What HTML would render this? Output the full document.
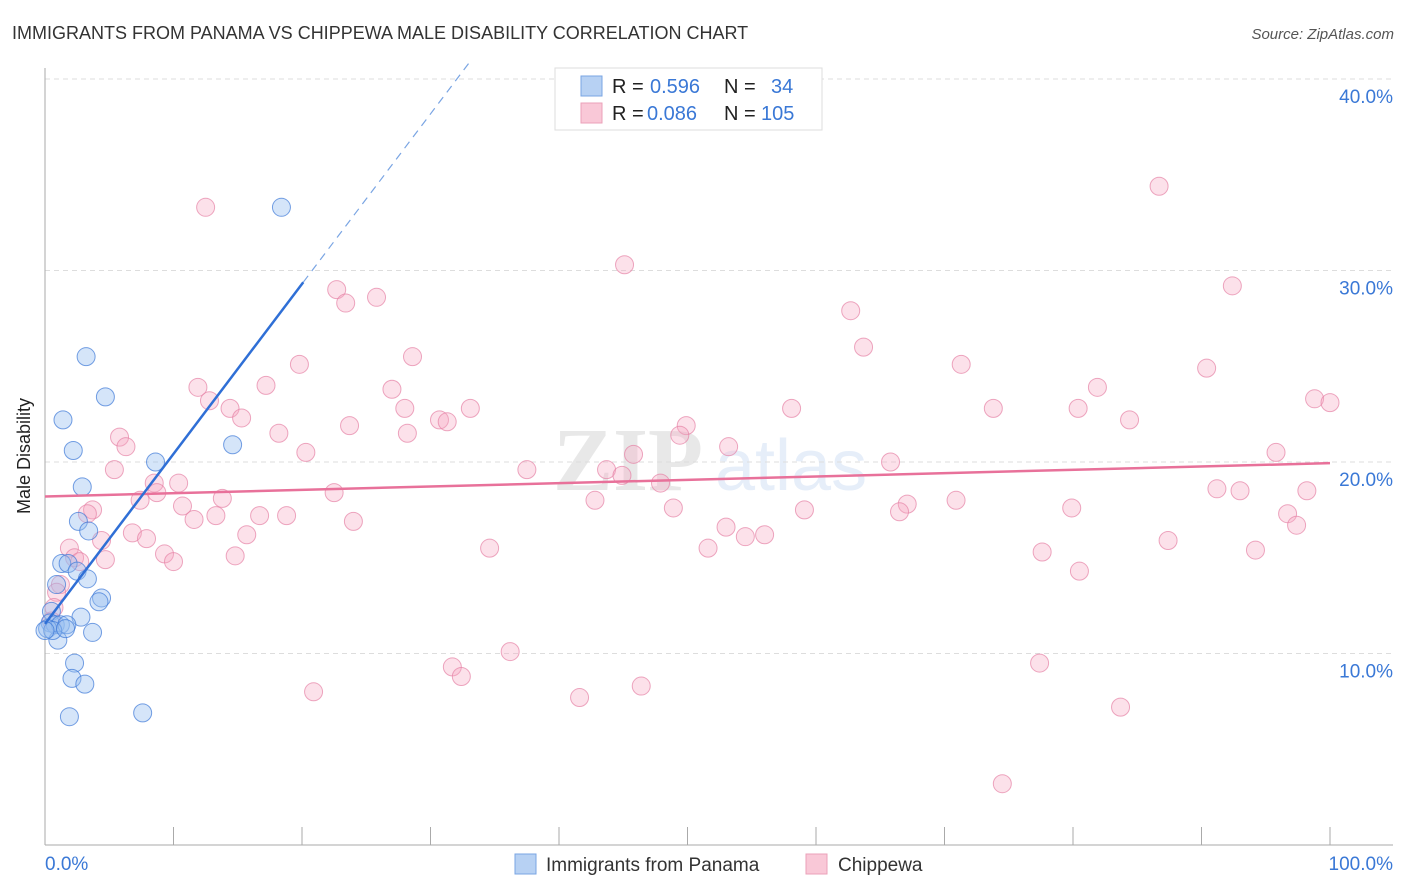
<!DOCTYPE html>
<html><head><meta charset="utf-8"><style>
body{margin:0;background:#fff;font-family:"Liberation Sans",sans-serif;}
svg{display:block}
</style></head><body>
<svg id="chart" width="1406" height="892">
<text x="12" y="39" font-size="18" fill="#333">IMMIGRANTS FROM PANAMA VS CHIPPEWA MALE DISABILITY CORRELATION CHART</text>
<text x="1394" y="39" font-size="15" fill="#555" font-style="italic" text-anchor="end">Source: ZipAtlas.com</text>
<g opacity="0.22">
<text x="553" y="490" font-size="90" font-family="Liberation Serif,serif" font-weight="bold" fill="#999">ZIP</text>
<text x="715" y="490" font-size="72" fill="#8fb3e6">atlas</text>
</g>
<g id="grid"></g>
<g id="axes"></g>
<g id="pts"></g>
<g id="lines"></g>
<text x="30" y="456" font-size="18" fill="#222" text-anchor="middle" transform="rotate(-90 30 456)">Male Disability</text>
<g>
<rect x="555" y="68" width="267" height="62" fill="#fff" stroke="#ddd"/>
<rect x="581" y="76" width="21" height="20" fill="#b7d1f3" stroke="#7aa5e3"/>
<rect x="581" y="103" width="21" height="20" fill="#f9c8d7" stroke="#eba1b8"/>
<text y="93" font-size="20" fill="#222"><tspan x="612">R =</tspan><tspan x="650" fill="#3a78d6">0.596</tspan><tspan x="724">N =</tspan><tspan x="771" fill="#3a78d6">34</tspan></text>
<text y="120" font-size="20" fill="#222"><tspan x="612">R =</tspan><tspan x="647" fill="#3a78d6">0.086</tspan><tspan x="724">N =</tspan><tspan x="761" fill="#3a78d6">105</tspan></text>
</g>
<g>
<rect x="515" y="854" width="21" height="20" fill="#b7d1f3" stroke="#7aa5e3"/>
<text x="546" y="871" font-size="19" fill="#333">Immigrants from Panama</text>
<rect x="806" y="854" width="21" height="20" fill="#f9c8d7" stroke="#eba1b8"/>
<text x="838" y="871" font-size="19" fill="#333">Chippewa</text>
</g>
</svg>
<script>
const yTicks=[10,20,30,40];
const yTickLabels=["10.0%","20.0%","30.0%","40.0%"];
const xTicks=[10,20,30,40,50,60,70,80,90,100];
const xTickLabels=["0.0%","100.0%"];
const blueX=[18.4,3.2,4.7,1.4,14.6,2.2,8.6,2.9,2.6,3.4,1.3,1.8,2.5,3.3,0.9,4.4,4.2,0.5,2.8,0.4,0.8,1.2,1.7,0.2,3.7,1.0,2.3,2.1,3.1,1.9,7.6,0.6,0.0,1.6];
const blueY=[33.3,25.5,23.4,22.2,20.9,20.6,20.0,18.7,16.9,16.4,14.7,14.7,14.3,13.9,13.6,12.9,12.7,12.2,11.9,11.6,11.5,11.5,11.5,11.3,11.1,10.7,9.5,8.7,8.4,6.7,6.9,11.2,11.2,11.3];
const pinkX=[12.5,45.1,86.7,92.4,22.7,23.4,25.8,62.7,63.7,28.6,19.8,71.3,90.4,11.9,17.2,27.0,81.9,12.8,98.8,100,14.4,28.0,33.1,58.1,73.8,80.4,15.3,30.7,31.3,23.7,84.4,49.9,49.4,5.8,18.2,28.2,6.3,53.2,20.3,45.8,95.8,65.8,5.4,37.5,43.7,44.9,8.5,10.4,47.9,8.7,22.5,91.2,93.0,98.2,13.8,7.4,42.8,70.9,10.7,67.1,3.7,59.1,48.9,79.9,66.5,3.3,13.3,96.7,16.7,18.8,11.6,24.0,97.4,53.0,6.8,15.7,7.9,54.5,56.0,87.4,4.4,1.9,34.6,51.6,77.6,94.2,2.3,9.3,14.8,4.7,10.0,2.7,80.5,1.2,0.9,0.7,0.5,36.2,77.4,31.7,32.4,46.4,20.9,41.6,83.7,74.5];
const pinkY=[33.3,30.3,34.4,29.2,29.0,28.3,28.6,27.9,26.0,25.5,25.1,25.1,24.9,23.9,24.0,23.8,23.9,23.2,23.3,23.1,22.8,22.8,22.8,22.8,22.8,22.8,22.3,22.2,22.1,21.9,22.2,21.9,21.4,21.3,21.5,21.5,20.8,20.8,20.5,20.4,20.5,20.0,19.6,19.6,19.6,19.3,18.9,18.9,18.9,18.4,18.4,18.6,18.5,18.5,18.1,18.0,18.0,18.0,17.7,17.8,17.5,17.5,17.6,17.6,17.4,17.3,17.2,17.3,17.2,17.2,17.0,16.9,16.7,16.6,16.3,16.2,16.0,16.1,16.2,15.9,15.9,15.5,15.5,15.5,15.3,15.4,15.0,15.2,15.1,14.9,14.8,14.8,14.3,13.6,13.2,12.4,11.7,10.1,9.5,9.3,8.8,8.3,8.0,7.7,7.2,3.2];

const NS="http://www.w3.org/2000/svg";
const X0=45,X1=1330,Y0=845,PY=19.15;
function sx(v){return X0+(X1-X0)*v/100;}
function sy(v){return Y0-v*PY;}
function mk(tag,attrs,parent){const e=document.createElementNS(NS,tag);for(const k in attrs)e.setAttribute(k,attrs[k]);parent.appendChild(e);return e;}
const grid=document.getElementById('grid'),axes=document.getElementById('axes'),pts=document.getElementById('pts'),lines=document.getElementById('lines');
yTicks.forEach((t,i)=>{
 const l=mk('line',{x1:X0,x2:1393,y1:sy(t),y2:sy(t),stroke:'#ddd','stroke-dasharray':'5,4'},grid);
 
 
 const tx=mk('text',{x:1393,y:sy(t)+24,'font-size':19,fill:'#3a78d6','text-anchor':'end'},axes);
 tx.textContent=yTickLabels[i];
 
 
});
let a=mk('line',{x1:X0,x2:X0,y1:68,y2:Y0,stroke:'#aaa'},axes);


a=mk('line',{x1:X0,x2:1393,y1:Y0,y2:Y0,stroke:'#aaa'},axes);


xTicks.forEach(t=>{
 const l=mk('line',{x1:sx(t),x2:sx(t),y1:827,y2:Y0,stroke:'#aaa'},axes);
 
 
});
let xl=mk('text',{x:45,y:870,'font-size':19,fill:'#3a78d6'},axes);xl.textContent=xTickLabels[0];


xl=mk('text',{x:1393,y:870,'font-size':19,fill:'#3a78d6','text-anchor':'end'},axes);xl.textContent=xTickLabels[1];



pinkX.forEach((x,i)=>{
 const c=mk('circle',{cx:sx(x),cy:sy(pinkY[i]),r:9,fill:'rgba(245,170,195,0.35)',stroke:'rgba(230,130,165,0.7)','stroke-width':1},pts);
 
 
});
blueX.forEach((x,i)=>{
 const c=mk('circle',{cx:sx(x),cy:sy(blueY[i]),r:9,fill:'rgba(150,190,240,0.4)',stroke:'rgba(60,120,215,0.7)','stroke-width':1},pts);
 
 
});
function fit(xs,ys){const n=xs.length;let mx=0,my=0;for(let i=0;i<n;i++){mx+=xs[i];my+=ys[i];}mx/=n;my/=n;let sxy=0,sxx=0;for(let i=0;i<n;i++){sxy+=(xs[i]-mx)*(ys[i]-my);sxx+=(xs[i]-mx)**2;}const b=sxy/sxx;return [my-b*mx,b];}
const [pa,pb]=fit(pinkX,pinkY);
let ln=mk('line',{x1:sx(0),y1:sy(pa),x2:sx(100),y2:sy(pa+pb*100),stroke:'#e8719a','stroke-width':2.5},lines);


const [ba,bb]=fit(blueX,blueY);
const xe=Math.max(...blueX)+1.7;
ln=mk('line',{x1:sx(0),y1:sy(ba),x2:sx(xe),y2:sy(ba+bb*xe),stroke:'#2f6fd6','stroke-width':2.5},lines);


const xd=(41-ba)/bb;
ln=mk('line',{x1:sx(xe),y1:sy(ba+bb*xe),x2:sx(xd),y2:sy(41),stroke:'#7aa5e3','stroke-width':1.2,'stroke-dasharray':'8,6'},lines);


</script>
</body></html>
